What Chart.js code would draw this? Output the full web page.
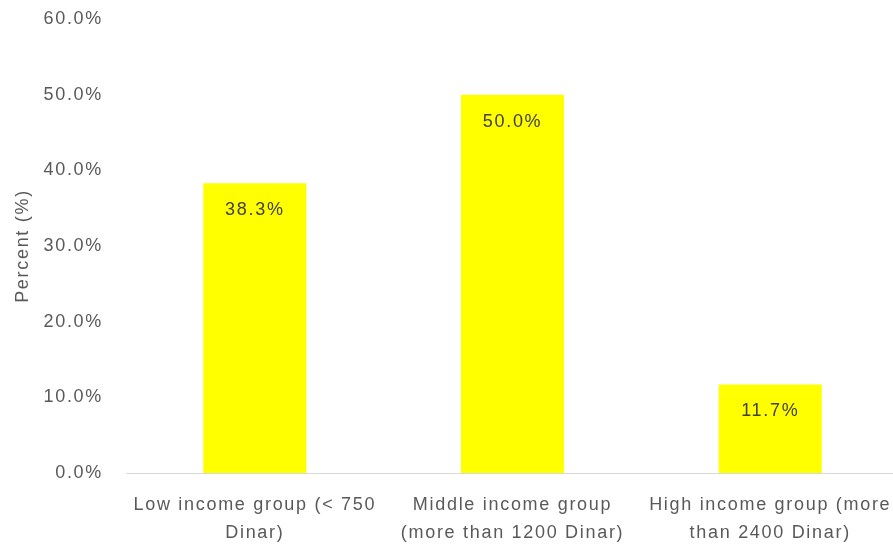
<!DOCTYPE html>
<html>
<head>
<meta charset="utf-8">
<script src="https://cdn.jsdelivr.net/npm/chart.js@4/dist/chart.umd.min.js"></script>
<style>
  html, body { margin: 0; padding: 0; background: #fff; overflow: hidden; }
  #wrap { width: 910px; height: 550px; }
</style>
</head>
<body>
<div id="wrap"><canvas id="incomeChart" width="910" height="550"></canvas></div>
<script>
// Income groups and share of respondents
const groups = [
    ["Low income group (< 750", "Dinar)"],
    ["Middle income group", "(more than 1200 Dinar)"],
    ["High income group (more", "than 2400 Dinar)"]
];
const percents = [38.3, 50.0, 11.7];
const yTicks = [0, 10, 20, 30, 40, 50, 60];

const FONT = "'Liberation Sans', 'DejaVu Sans', sans-serif";
const SPACING = '1.7px';

// wide letter spacing for every text drawn on the canvas
const spacedText = {
    id: 'spacedText',
    beforeUpdate(chart) { chart.ctx.letterSpacing = SPACING; },
    beforeDraw(chart) { chart.ctx.letterSpacing = SPACING; }
};

// value labels just inside the top of each bar
const barLabels = {
    id: 'barLabels',
    afterDatasetsDraw(chart) {
        const ctx = chart.ctx;
        const meta = chart.getDatasetMeta(0);
        ctx.save();
        ctx.letterSpacing = SPACING;
        ctx.font = '18px ' + FONT;
        ctx.fillStyle = '#404040';
        ctx.textAlign = 'center';
        ctx.textBaseline = 'middle';
        meta.data.forEach((bar, i) => {
            ctx.fillText(percents[i].toFixed(1) + '%', bar.x, bar.y + 27);
        });
        ctx.restore();
    }
};

const ctx = document.getElementById('incomeChart').getContext('2d');

const incomeChart = new Chart(ctx, {
    type: 'bar',
    data: {
        labels: groups,
        datasets: [{
            data: percents,
            backgroundColor: '#ffff00',
            barPercentage: 0.8,
            categoryPercentage: 0.5
        }]
    },
    options: {
        responsive: false,
        animation: false,
        layout: { padding: { top: 19, right: 4, left: 0, bottom: 0 } },
        plugins: {
            legend: { display: false },
            tooltip: { enabled: false }
        },
        scales: {
            x: {
                grid: { display: false, drawTicks: false },
                border: { color: '#d9d9d9', width: 1 },
                ticks: {
                    color: '#595959',
                    font: { family: FONT, size: 18, lineHeight: 1.55 },
                    padding: 18,
                    maxRotation: 0,
                    autoSkip: false
                },
                afterFit(scale) { scale.height = 77; }
            },
            y: {
                min: 0,
                max: 60,
                afterBuildTicks(scale) { scale.ticks = yTicks.map(v => ({ value: v })); },
                grid: { display: false, drawTicks: false },
                border: { display: false },
                ticks: {
                    color: '#595959',
                    font: { family: FONT, size: 18 },
                    padding: 23,
                    callback: v => v.toFixed(1) + '%'
                },
                title: {
                    display: true,
                    text: 'Percent (%)',
                    color: '#595959',
                    font: { family: FONT, size: 18 },
                    padding: { top: 12, bottom: 0 }
                },
                afterFit(scale) {
                    scale.width = 126;
                    scale.paddingTop = 0;
                    scale.paddingBottom = 0;
                }
            }
        }
    },
    plugins: [spacedText, barLabels]
});
</script>
</body>
</html>
